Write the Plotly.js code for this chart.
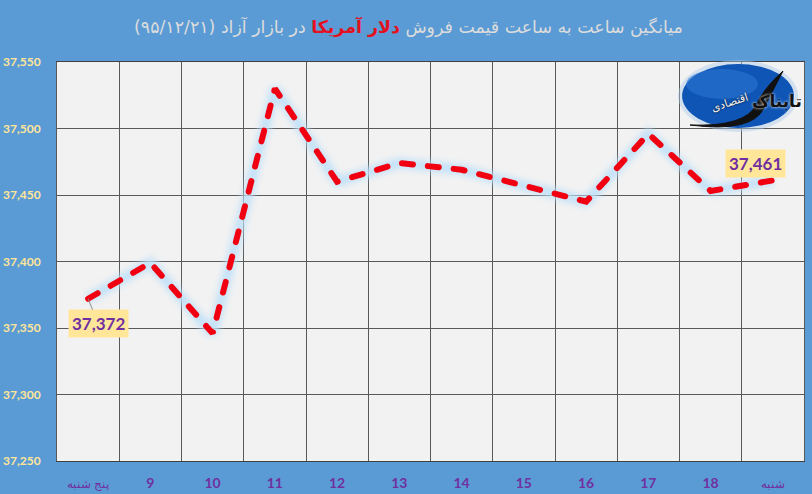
<!DOCTYPE html>
<html>
<head>
<meta charset="utf-8">
<script src="https://cdn.plot.ly/plotly-3.0.1.min.js"></script>
<style>
html, body { margin: 0; padding: 0; background: #5B9BD5; }
#chart { width: 812px; height: 494px; }
.price-line .js-line { stroke-linecap: round; }
.price-glow .js-line { filter: blur(3px); }
</style>
</head>
<body>
<div id="chart"></div>
<script>
const days = ['پنج شنبه', '9', '10', '11', '12', '13', '14', '15', '16', '17', '18', 'شنبه'];
const prices = [37372, 37399, 37346, 37530, 37460, 37474, 37469, 37457, 37445, 37496, 37453, 37461];
const yTicks = [37250, 37300, 37350, 37400, 37450, 37500, 37550];

const plotBox = {l: 56.5, r: 8, t: 62, b: 33};
const plotW = 812 - plotBox.l - plotBox.r;
const plotH = 494 - plotBox.t - plotBox.b;
const px = function (x) { return (x - plotBox.l) / plotW; };
const py = function (y) { return 1 - (y - plotBox.t) / plotH; };

function ellipse(cx, cy, rx, ry, color, opacity) {
    return {
        type: 'circle', xref: 'paper', yref: 'paper',
        x0: px(cx - rx), x1: px(cx + rx), y0: py(cy + ry), y1: py(cy - ry),
        fillcolor: color, opacity: opacity, line: {width: 0},
    };
}

const baseTrace = {
    x: days,
    y: prices,
    type: 'scatter',
    mode: 'lines',
    hoverinfo: 'skip',
};

const traces = [
    Object.assign({}, baseTrace, {line: {color: 'rgba(190, 224, 248, 0.9)', width: 10}}),
    Object.assign({}, baseTrace, {line: {color: '#F00010', width: 6, dash: '11px,15px'}}),
];

const labelStyle = {
    showarrow: false,
    bgcolor: '#FFE699',
    borderpad: 3,
    font: {family: 'Lato, sans-serif', size: 17, color: '#7030A0', weight: 700},
};

const layout = {
    width: 812,
    height: 494,
    margin: plotBox,
    paper_bgcolor: '#5B9BD5',
    plot_bgcolor: '#F2F2F2',
    showlegend: false,
    font: {family: 'DejaVu Sans, sans-serif'},
    title: {
        text: '\u202Bمیانگین ساعت به ساعت قیمت فروش <b><span style="color:#E3101E">دلار آمریکا</span></b> در بازار آزاد (۹۵/۱۲/۲۱)\u202C',
        font: {family: 'DejaVu Sans, sans-serif', size: 17.4, color: '#DCDCDC'},
        x: 0.503,
        xref: 'container',
        xanchor: 'center',
        y: 0.945,
        yanchor: 'middle',
    },
    xaxis: {
        type: 'category',
        categoryorder: 'array',
        categoryarray: days,
        tickmode: 'array',
        tickvals: days,
        ticktext: days.map(function (d) {
            return isNaN(d) ? '<span style="font-size:11.5px;font-weight:400">' + d + '</span>' : d;
        }),
        range: [-0.5, 11.5],
        tickson: 'boundaries',
        ticks: '',
        showgrid: true,
        gridcolor: '#595959',
        gridwidth: 1,
        showline: true,
        linecolor: '#404040',
        linewidth: 1,
        mirror: true,
        ticklabelstandoff: 9,
        tickfont: {family: 'Lato, sans-serif', size: 14, color: '#7030A0', weight: 700},
        fixedrange: true,
    },
    yaxis: {
        range: [37250, 37550],
        tickmode: 'array',
        tickvals: yTicks,
        tickformat: ',d',
        ticks: '',
        showgrid: true,
        gridcolor: '#595959',
        gridwidth: 1,
        zeroline: false,
        showline: true,
        linecolor: '#595959',
        linewidth: 1,
        mirror: true,
        ticklabelstandoff: 13,
        tickfont: {family: 'Lato, sans-serif', size: 12, color: '#FFE699', weight: 700},
        fixedrange: true,
    },
    shapes: [
        ellipse(738, 96, 60, 36, '#A9C8EA', 0.45),
        ellipse(738, 96, 56, 32, '#0F55B5', 1),
        ellipse(722, 84, 36, 15, '#2A75D0', 0.6),
        {
            type: 'path', xref: 'paper', yref: 'paper',
            path: 'M ' + px(690) + ' ' + py(125) + ' Q ' + px(745) + ' ' + py(127) + ' ' + px(756) + ' ' + py(105)
                + ' Q ' + px(764) + ' ' + py(88) + ' ' + px(783) + ' ' + py(71)
                + ' Q ' + px(772) + ' ' + py(92) + ' ' + px(764) + ' ' + py(108)
                + ' Q ' + px(752) + ' ' + py(133) + ' ' + px(690) + ' ' + py(125) + ' Z',
            fillcolor: '#111111',
            line: {color: '#111111', width: 1},
        },
    ],
    annotations: [
        Object.assign({}, labelStyle, {
            x: days[0], y: prices[0], text: '37,372',
            showarrow: true, arrowhead: 0, arrowwidth: 1, arrowcolor: '#8C8C8C',
            axref: 'pixel', ayref: 'pixel', ax: 10, ay: 25,
        }),
        Object.assign({}, labelStyle, {
            x: days[11], y: prices[11], text: '37,461', xshift: -17, yshift: 17,
        }),
        {
            xref: 'paper', yref: 'paper', x: px(777), y: py(101), xanchor: 'center', yanchor: 'middle',
            showarrow: false,
            text: 'تابناک',
            font: {family: 'DejaVu Sans, sans-serif', size: 17, color: '#111111', weight: 700, shadow: '0 0 3px #ffffff'},
        },
        {
            xref: 'paper', yref: 'paper', x: px(730), y: py(103), xanchor: 'center', yanchor: 'middle',
            showarrow: false, textangle: -18,
            text: 'اقتصادی',
            font: {family: 'DejaVu Sans, sans-serif', size: 11, color: '#F4F4F4', shadow: '0 0 2px #000000'},
        },
    ],
};

Plotly.newPlot('chart', traces, layout, {displayModeBar: false, staticPlot: true}).then(function () {
    const lines = document.querySelectorAll('#chart .scatterlayer .trace');
    lines[0].classList.add('price-glow');
    lines[1].classList.add('price-line');
});
</script>
</body>
</html>
